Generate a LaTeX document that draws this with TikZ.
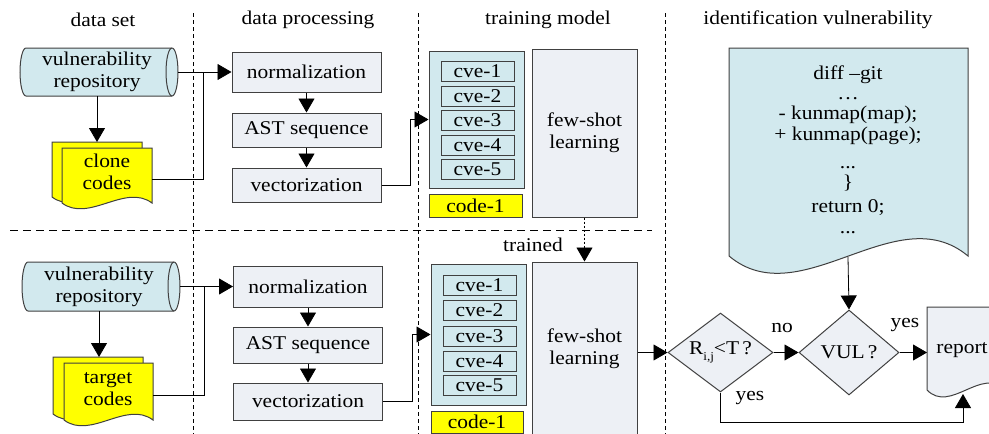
\documentclass[tikz,border=0pt]{standalone}
\usepackage{fontspec}
\setmainfont{Liberation Serif}[FakeStretch=1.1]
\usetikzlibrary{shapes.geometric,arrows.meta,calc}
\definecolor{lblue}{RGB}{210,233,238}
\definecolor{lgray}{RGB}{237,240,245}
\definecolor{ylw}{RGB}{255,255,0}
\definecolor{edgec}{RGB}{64,64,64}
\newcommand\docshape[6]{%
  \draw[#6] (#1,#2) -- (#3,#2) -- (#3,#4)
    .. controls ({#3-(#3-#1)*0.3},{#4-#5}) and ({#1+(#3-#1)*0.3},{#4+#5}) .. (#1,#4) -- cycle;}
% cylinder: centre x, centre y, half width, half height
\newcommand\cylshape[4]{%
  \draw[draw=edgec, line width=1pt, fill=lblue] ({#1-#3+6},{#2-#4}) -- ({#1+#3-6},{#2-#4})
    arc[start angle=-90, end angle=90, x radius=6, y radius=#4]
    -- ({#1-#3+6},{#2+#4})
    arc[start angle=90, end angle=270, x radius=6, y radius=#4] -- cycle;
  \draw[draw=edgec, line width=1pt] ({#1+#3-6},{#2-#4})
    arc[start angle=270, end angle=90, x radius=6, y radius=#4];}
\begin{document}
\begin{tikzpicture}[x=1pt,y=-1pt,
  font=\fontsize{19.5}{22}\selectfont,
  box/.style={draw=edgec, line width=1pt, inner sep=0pt, align=center},
  procbox/.style={box, fill=lgray, minimum width=149pt},
  cvebox/.style={box, fill=lblue, minimum width=73pt, minimum height=20pt},
  conn/.style={line width=0.8pt, black},
  arr/.style={conn, -{Triangle[length=14pt,width=16pt]}},
  vdiv/.style={line width=0.8pt, dash pattern=on 4pt off 3pt},
  hdiv/.style={line width=0.8pt, dash pattern=on 8pt off 5pt},
  lbl/.style={inner sep=0pt},
]
\useasboundingbox (0,0) rectangle (989,434);
\fill[white] (0,0) rectangle (989,434);

% dividers
\draw[vdiv] (193,13) -- (193,434);
\draw[vdiv] (418,13) -- (418,434);
\draw[vdiv] (665,13) -- (665,434);
\draw[hdiv] (10,230) -- (652,230);

% headings
\node[lbl] (h1) at (103,20) {data set};
\node[lbl] (h2) at (308,20) {data processing};
\node[lbl] (h3) at (548,20) {training model};
\node[lbl] (h4) at (818,20) {identification vulnerability};

% ---------- top row ----------
\cylshape{99}{72}{79}{24}
\node[inner sep=0pt, minimum width=158pt, minimum height=48pt, align=center]
      (repo1) at (97,72) {vulnerability\\repository};
\docshape{52}{142}{142}{197}{20}{draw=edgec, line width=1pt, fill=ylw}
\docshape{62}{148}{152}{203}{20}{draw=edgec, line width=1pt, fill=ylw}
\node[lbl, align=center] (clone) at (107,172) {clone\\codes};
\coordinate (cloneT) at (97,142);
\coordinate (cloneR) at (152,179);
\coordinate (j1) at (203,72);

\node[procbox, minimum height=40pt] (norm1) at (306.5,72) {normalization};
\node[procbox, minimum height=34pt] (ast1) at (306.5,130) {AST sequence};
\node[procbox, minimum height=34pt] (vec1) at (306.5,185) {vectorization};

\node[box, fill=lblue, minimum width=95pt, minimum height=137pt] (cont1) at (476.5,119.5) {};
\foreach \i/\yy in {1/71.5,2/96,3/120.5,4/145,5/169.5}
  \node[cvebox] (cveA\i) at (477.5,\yy) {cve-\i};
\node[box, fill=ylw, minimum width=93pt, minimum height=23pt] (codeA) at (475.5,205.5) {code-1};
\node[box, fill=lgray, minimum width=105pt, minimum height=168pt] (few1) at (584.5,133) {few-shot\\learning};
\coordinate (k1) at (410,119.5);

\draw[arr] (repo1.south) -- (cloneT);
\draw[conn] (cloneR) -| (j1);
\draw[arr] (repo1.east) ++(2,0) -- (norm1.west);
\draw[arr] (norm1) -- (ast1);
\draw[arr] (ast1) -- (vec1);
\draw[conn] (vec1.east) -| (k1);
\draw[arr] (k1) -- (cont1.west);

% ---------- bottom row ----------
\cylshape{101}{286.5}{79}{24.5}
\node[inner sep=0pt, minimum width=158pt, minimum height=49pt, align=center]
      (repo2) at (99,286.5) {vulnerability\\repository};
\docshape{53}{357}{143}{414}{20}{draw=edgec, line width=1pt, fill=ylw}
\docshape{64}{363}{153}{420}{20}{draw=edgec, line width=1pt, fill=ylw}
\node[lbl, align=center] (target) at (108,389) {target\\codes};
\coordinate (targetT) at (99,357);
\coordinate (targetR) at (153,395);
\coordinate (j2) at (204,286.5);

\node[procbox, minimum height=41pt] (norm2) at (308,286.5) {normalization};
\node[procbox, minimum height=36pt] (ast2) at (308,345) {AST sequence};
\node[procbox, minimum height=37pt] (vec2) at (308,401.5) {vectorization};

\node[box, fill=lblue, minimum width=95pt, minimum height=141pt] (cont2) at (478.5,334.5) {};
\foreach \i/\yy in {1/285.5,2/310.5,3/336,4/361,5/385.5}
  \node[cvebox] (cveB\i) at (479.5,\yy) {cve-\i};
\node[box, fill=ylw, minimum width=92pt, minimum height=22pt] (codeB) at (477,422) {code-1};
\node[box, fill=lgray, minimum width=105pt, minimum height=173pt] (few2) at (584.5,348.5) {few-shot\\learning};
\coordinate (k2) at (412,334.5);

\draw[arr] (repo2.south) -- (targetT);
\draw[conn] (targetR) -| (j2);
\draw[arr] (repo2.east) ++(2,0) -- (norm2.west);
\draw[arr] (norm2) -- (ast2);
\draw[arr] (ast2) -- (vec2);
\draw[conn] (vec2.east) -| (k2);
\draw[arr] (k2) -- (cont2.west);

% trained
\draw[arr, dash pattern=on 2pt off 2pt] (few1.south) -- (few2.north);
\node[lbl] (trained) at (533,245) {trained};

% ---------- identification ----------
\docshape{729}{48}{968}{256}{60}{draw=edgec, line width=1pt, fill=lblue}
\node[lbl, anchor=base] (d1) at (848,79) {diff –git};
\node[lbl, anchor=base] (d2) at (848,99) {…};
\node[lbl, anchor=base] (d3) at (848,119) {- kunmap(map);};
\node[lbl, anchor=base] (d4) at (848,140) {+ kunmap(page);};
\node[lbl, anchor=base] (d5) at (848,168) {...};
\node[lbl, anchor=base] (d6) at (848,188) {\}};
\node[lbl, anchor=base] (d7) at (848,212) {return 0;};
\node[lbl, anchor=base] (d8) at (848,233) {...};
\coordinate (diffB) at (848,257);

\node[diamond, draw=edgec, line width=1pt, fill=lgray, shape aspect=1.3,
      minimum width=105pt, minimum height=79pt, inner sep=0pt] (R) at (720.5,352.5)
      {R\raisebox{-0.3em}{\fontsize{12}{12}\selectfont i,j}<T\,?};
\node[diamond, draw=edgec, line width=1pt, fill=lgray, shape aspect=1.2,
      minimum width=100pt, minimum height=85pt, inner sep=0pt] (V) at (849,352.5) {VUL\,?};
\docshape{927}{307}{1005}{390}{24}{draw=edgec, line width=1pt, fill=lgray}
\node[lbl] (report) at (962,350) {report};
\coordinate (repL) at (927,352.5);
\coordinate (repB) at (963,394);
\coordinate (yc) at (963,422);

\draw[arr] (few2.east |- R.west) -- (R.west);
\draw[arr] (R.east) -- (V.west);
\draw[arr] (V.east) -- (repL);
\draw[arr] (diffB) -- (V.north);
\draw[arr] (R.south) |- (yc) -- (repB);
\node[lbl] (no) at (782,328) {no};
\node[lbl] (yes1) at (905,325) {yes};
\node[lbl] (yes2) at (750,398) {yes};
\end{tikzpicture}
\end{document}
